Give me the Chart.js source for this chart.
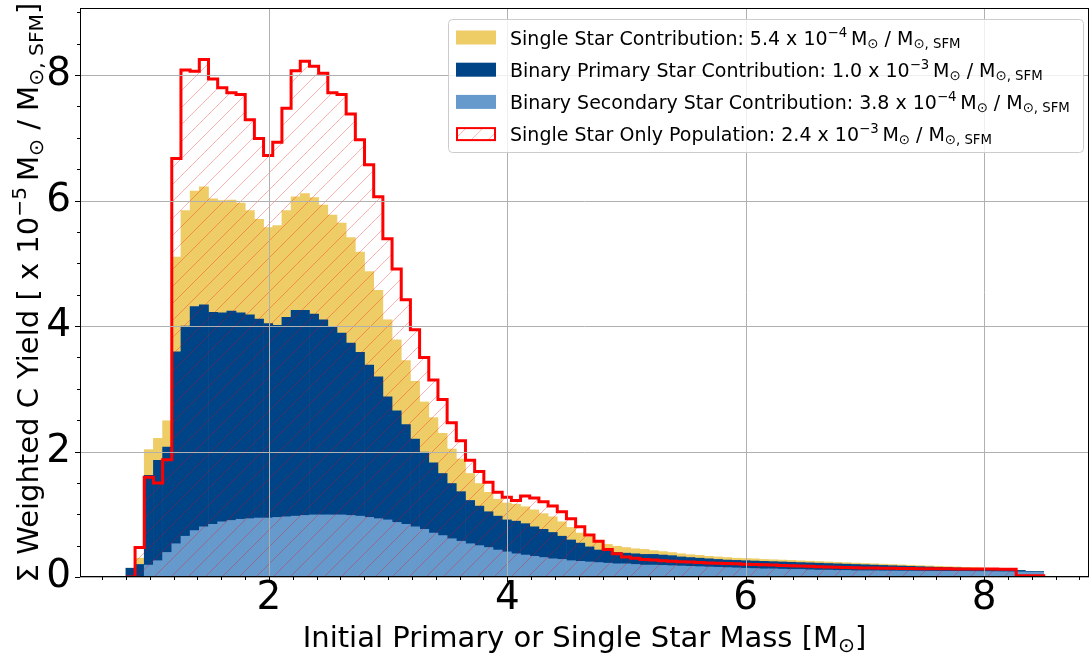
<!DOCTYPE html>
<html>
<head>
<meta charset="utf-8">
<script src="https://cdn.jsdelivr.net/npm/chart.js@4.4.1/dist/chart.umd.min.js"></script>
<style>
  html, body { margin: 0; padding: 0; background: #fff; }
  #wrap { width: 1090px; height: 659px; position: relative; }
</style>
</head>
<body>
<div id="wrap"><canvas id="chart"></canvas></div>
<script>
// 100 equal mass bins between 0.8 and 8.5 Msun
const binRange = [0.8, 8.5];

// weighted C yield per bin [x 1e-5 Msun / Msun,SFM]
const secondaryStar = [
  0, 0, 0.19, 0.26, 0.39, 0.53, 0.65, 0.74, 0.80, 0.84,
  0.88, 0.90, 0.92, 0.93, 0.94, 0.94, 0.95, 0.96, 0.97, 0.98,
  0.99, 0.99, 0.99, 0.99, 0.98, 0.97, 0.95, 0.93, 0.91, 0.87,
  0.84, 0.80, 0.76, 0.70, 0.66, 0.61, 0.57, 0.53, 0.50, 0.47,
  0.43, 0.40, 0.37, 0.35, 0.33, 0.31, 0.29, 0.28, 0.26, 0.25,
  0.24, 0.23, 0.22, 0.21, 0.21, 0.20, 0.19, 0.19, 0.185, 0.18,
  0.175, 0.17, 0.165, 0.16, 0.155, 0.15, 0.145, 0.14, 0.135, 0.13,
  0.13, 0.125, 0.12, 0.12, 0.115, 0.11, 0.11, 0.105, 0.105, 0.10,
  0.10, 0.10, 0.098, 0.097, 0.096, 0.095, 0.094, 0.093, 0.092, 0.091,
  0.09, 0.089, 0.088, 0.087, 0.086, 0.085, 0.084, 0.082, 0.08, 0.078
];
const primaryStar = [
  0.14, 0.20, 1.43, 1.60, 1.68, 3.06, 3.35, 3.57, 3.54, 3.38,
  3.33, 3.34, 3.29, 3.25, 3.17, 3.10, 3.06, 3.18, 3.28, 3.27,
  3.20, 3.11, 2.99, 2.90, 2.75, 2.61, 2.43, 2.26, 1.96, 1.78,
  1.59, 1.40, 1.23, 1.12, 0.99, 0.88, 0.79, 0.69, 0.63, 0.57,
  0.54, 0.51, 0.52, 0.50, 0.47, 0.45, 0.42, 0.37, 0.33, 0.29,
  0.24, 0.20, 0.19, 0.18, 0.17, 0.17, 0.17, 0.17, 0.165, 0.16,
  0.145, 0.14, 0.135, 0.13, 0.125, 0.12, 0.12, 0.12, 0.12, 0.12,
  0.115, 0.115, 0.115, 0.11, 0.11, 0.11, 0.105, 0.105, 0.10, 0.10,
  0.095, 0.09, 0.087, 0.083, 0.079, 0.075, 0.071, 0.067, 0.063, 0.059,
  0.055, 0.051, 0.047, 0.043, 0.039, 0.035, 0.031, 0.023, 0.01, 0.01
];
const singleStar = [
  0, 0.10, 0.41, 0.35, 0.42, 1.51, 1.84, 1.84, 1.88, 1.81,
  1.79, 1.77, 1.75, 1.66, 1.59, 1.53, 1.59, 1.70, 1.81, 1.86,
  1.86, 1.83, 1.79, 1.75, 1.68, 1.60, 1.49, 1.38, 1.23, 1.13,
  1.02, 0.92, 0.80, 0.72, 0.64, 0.55, 0.52, 0.43, 0.36, 0.31,
  0.27, 0.27, 0.27, 0.27, 0.27, 0.25, 0.25, 0.23, 0.20, 0.16,
  0.16, 0.14, 0.11, 0.10, 0.09, 0.08, 0.08, 0.06, 0.055, 0.05,
  0.05, 0.045, 0.045, 0.04, 0.04, 0.04, 0.035, 0.035, 0.035, 0.03,
  0.03, 0.03, 0.03, 0.028, 0.027, 0.026, 0.025, 0.024, 0.023, 0.022,
  0.021, 0.02, 0.02, 0.019, 0.018, 0.018, 0.017, 0.016, 0.016, 0.015,
  0.015, 0.014, 0.014, 0.013, 0.013, 0.012, 0.012, 0, 0, 0
];
const singleOnlyPop = [
  0, 0.47, 1.59, 1.50, 1.87, 6.67, 8.08, 8.06, 8.25, 7.94,
  7.80, 7.72, 7.69, 7.29, 6.99, 6.72, 6.93, 7.47, 8.07, 8.22,
  8.14, 8.03, 7.72, 7.69, 7.38, 6.97, 6.57, 6.06, 5.39, 4.91,
  4.42, 3.94, 3.50, 3.14, 2.83, 2.46, 2.17, 1.86, 1.68, 1.51,
  1.35, 1.27, 1.22, 1.29, 1.26, 1.20, 1.13, 1.04, 0.93, 0.80,
  0.67, 0.57, 0.44, 0.37, 0.32, 0.30, 0.28, 0.27, 0.26, 0.25,
  0.245, 0.24, 0.23, 0.225, 0.22, 0.215, 0.21, 0.205, 0.20, 0.195,
  0.19, 0.185, 0.18, 0.175, 0.17, 0.165, 0.16, 0.155, 0.15, 0.148,
  0.145, 0.142, 0.14, 0.138, 0.136, 0.134, 0.132, 0.13, 0.13, 0.13,
  0.128, 0.128, 0.127, 0.126, 0.126, 0.125, 0.124, 0.02, 0.02, 0.02
];

const xTicks = [2, 4, 6, 8];
const yTicks = [0, 2, 4, 6, 8];

const FONT = '"DejaVu Sans"';
const nBins = singleOnlyPop.length;
const binW = (binRange[1] - binRange[0]) / nBins;
const binEdges = Array.from({ length: nBins + 1 }, (_, i) => binRange[0] + i * binW);
const binCenters = binEdges.slice(0, nBins).map(e => e + binW / 2);

const asBars = vals => vals.map((v, i) => ({ x: binCenters[i], y: v }));
// step outline: one point per left bin edge, closed down to zero at the end
const stepPoints = singleOnlyPop.map((v, i) => ({ x: binEdges[i], y: v }));
stepPoints.push({ x: binEdges[nBins], y: 0 });

function hatchPattern() {
  const s = 17;
  const c = document.createElement('canvas');
  c.width = s; c.height = s;
  const g = c.getContext('2d');
  g.strokeStyle = 'rgba(255,0,0,0.3)';
  g.lineWidth = 1;
  for (const k of [-s, 0, s]) {
    g.beginPath(); g.moveTo(k, s); g.lineTo(k + s, 0); g.stroke();
  }
  return g.createPattern(c, 'repeat');
}

// text with super/subscripts: parts = [[text, '' | 'sup' | 'sub'], ...]
function richWidth(ctx, parts, size) {
  let w = 0;
  parts.forEach(([t, k]) => {
    ctx.font = (k ? size * 0.7 : size) + 'px ' + FONT;
    w += ctx.measureText(t).width;
  });
  return w;
}
function drawRich(ctx, parts, x, y, size, align) {
  let cx = align === 'center' ? x - richWidth(ctx, parts, size) / 2 : x;
  ctx.textBaseline = 'alphabetic';
  ctx.textAlign = 'left';
  parts.forEach(([t, k]) => {
    const s = k ? size * 0.7 : size;
    ctx.font = s + 'px ' + FONT;
    const dy = k === 'sup' ? -size * 0.41 : k === 'sub' ? size * 0.17 : 0;
    ctx.fillText(t, cx, y + dy);
    cx += ctx.measureText(t).width;
  });
}

const unitParts = [['\u2009M', ''], ['\u2299', 'sub'], [' / M', ''], ['\u2299, SFM', 'sub']];
const legendItems = [
  { color: '#EECC66', parts: [['Single Star Contribution: 5.4 x 10', ''], ['\u22124', 'sup'], ...unitParts] },
  { color: '#004488', parts: [['Binary Primary Star Contribution: 1.0 x 10', ''], ['\u22123', 'sup'], ...unitParts] },
  { color: '#6699CC', parts: [['Binary Secondary Star Contribution: 3.8 x 10', ''], ['\u22124', 'sup'], ...unitParts] },
  { color: null, parts: [['Single Star Only Population: 2.4 x 10', ''], ['\u22123', 'sup'], ...unitParts] }
];

const framePlugin = {
  id: 'frame',
  afterDatasetsDraw(chart) {
    const { ctx, chartArea: a, scales: { x, y } } = chart;
    ctx.save();
    ctx.lineWidth = 1;
    ctx.strokeStyle = '#b0b0b0';
    ctx.beginPath();
    xTicks.forEach(v => {
      const px = Math.round(x.getPixelForValue(v)) + 0.5;
      ctx.moveTo(px, a.top); ctx.lineTo(px, a.bottom);
    });
    yTicks.forEach(v => {
      const py = Math.round(y.getPixelForValue(v)) + 0.5;
      ctx.moveTo(a.left, py); ctx.lineTo(a.right, py);
    });
    ctx.stroke();

    // ticks: majors plus minors every 0.2 (x) and 0.5 (y)
    ctx.strokeStyle = '#000';
    ctx.beginPath();
    for (let k = Math.ceil(x.min / 0.2); k * 0.2 <= x.max; k++) {
      const px = Math.round(x.getPixelForValue(k * 0.2)) + 0.5;
      const len = k % 10 === 0 ? 5 : 3;
      ctx.moveTo(px, a.bottom); ctx.lineTo(px, a.bottom + len);
    }
    for (let k = 0; k * 0.5 <= y.max; k++) {
      const py = Math.round(y.getPixelForValue(k * 0.5)) + 0.5;
      const len = k % 4 === 0 ? 5 : 3;
      ctx.moveTo(a.left, py); ctx.lineTo(a.left - len, py);
    }
    ctx.stroke();

    ctx.strokeStyle = '#000';
    ctx.strokeRect(a.left + 0.5, a.top + 0.5, a.right - a.left - 1, a.bottom - a.top - 1);
    ctx.restore();
  },
  afterDraw(chart) {
    const { ctx, chartArea: a } = chart;
    ctx.save();
    ctx.fillStyle = '#000';
    drawRich(ctx, [['Initial Primary or Single Star Mass [M', ''], ['\u2299', 'sub'], [']', '']],
      (a.left + a.right) / 2, 647, 29, 'center');

    ctx.save();
    ctx.translate(38, (a.top + a.bottom) / 2);
    ctx.rotate(-Math.PI / 2);
    drawRich(ctx, [['\u03A3 Weighted C Yield [ x 10', ''], ['\u22125', 'sup'], ...unitParts, [']', '']],
      0, 0, 29, 'center');
    ctx.restore();

    // legend
    const lx = 448, ly = 19, lw = 635, lh = 133;
    ctx.beginPath();
    ctx.roundRect(lx + 0.5, ly + 0.5, lw, lh, 4);
    ctx.fillStyle = 'rgba(255,255,255,0.8)';
    ctx.fill();
    ctx.strokeStyle = '#cccccc';
    ctx.lineWidth = 1;
    ctx.stroke();

    legendItems.forEach((it, i) => {
      const cy = 37.5 + i * 32.2;
      const sx = 456, sw = 40, sh = 14, sy = cy - sh / 2;
      if (it.color) {
        ctx.fillStyle = it.color;
        ctx.fillRect(sx, sy, sw, sh);
      } else {
        ctx.save();
        ctx.beginPath();
        ctx.rect(sx, sy, sw, sh);
        ctx.clip();
        ctx.strokeStyle = 'rgba(255,0,0,0.3)';
        ctx.beginPath();
        for (let k = -20; k < sw + 20; k += 17) {
          ctx.moveTo(sx + k, sy + sh); ctx.lineTo(sx + k + sh, sy);
        }
        ctx.stroke();
        ctx.restore();
        ctx.strokeStyle = '#ff0000';
        ctx.lineWidth = 2;
        ctx.strokeRect(sx + 1, sy + 1, sw - 2, sh - 2);
      }
      ctx.fillStyle = '#000';
      drawRich(ctx, it.parts, 510, cy + 7, 19, 'left');
    });
    ctx.restore();
  }
};

const barStyle = { borderWidth: 0, barPercentage: 1, categoryPercentage: 1, order: 1 };

new Chart(document.getElementById('chart'), {
  type: 'bar',
  data: {
    datasets: [
      { label: 'Binary Secondary Star Contribution', data: asBars(secondaryStar), backgroundColor: '#6699CC', ...barStyle },
      { label: 'Binary Primary Star Contribution', data: asBars(primaryStar), backgroundColor: '#004488', ...barStyle },
      { label: 'Single Star Contribution', data: asBars(singleStar), backgroundColor: '#EECC66', ...barStyle },
      {
        type: 'line',
        label: 'Single Star Only Population',
        data: stepPoints,
        stack: 'singleOnly',
        stepped: true,
        borderColor: '#ff0000',
        borderWidth: 3,
        borderJoinStyle: 'miter',
        pointRadius: 0,
        fill: 'origin',
        backgroundColor: hatchPattern(),
        order: 0
      }
    ]
  },
  options: {
    responsive: true,
    maintainAspectRatio: false,
    animation: false,
    layout: { padding: { top: 8, right: 1, left: 0, bottom: 0 } },
    plugins: { legend: { display: false }, tooltip: { enabled: false } },
    scales: {
      x: {
        type: 'linear',
        min: 0.415,
        max: 8.88,
        offset: false,
        stacked: true,
        grid: { display: false, drawTicks: false },
        border: { display: false },
        afterBuildTicks: s => { s.ticks = xTicks.map(v => ({ value: v })); },
        afterFit: s => { s.height = 82; s.paddingLeft = 0; s.paddingRight = 0; },
        ticks: { color: '#000', padding: 2, font: { family: 'DejaVu Sans', size: 39, lineHeight: 1 }, maxRotation: 0 }
      },
      y: {
        min: 0,
        max: 9.07,
        stacked: true,
        grid: { display: false, drawTicks: false },
        border: { display: false },
        afterBuildTicks: s => { s.ticks = yTicks.map(v => ({ value: v })); },
        afterFit: s => { s.width = 80; s.paddingTop = 0; s.paddingBottom = 0; },
        ticks: { color: '#000', padding: 9, font: { family: 'DejaVu Sans', size: 39, lineHeight: 1 } }
      }
    }
  },
  plugins: [framePlugin]
});
</script>
</body>
</html>
